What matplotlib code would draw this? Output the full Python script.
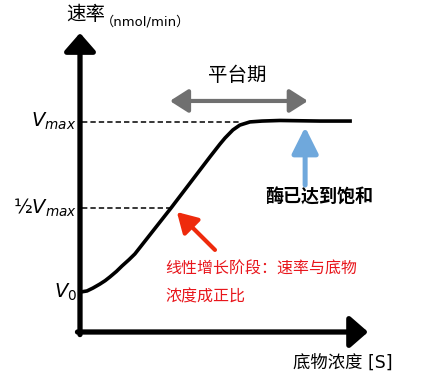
import matplotlib
matplotlib.use("Agg")
from matplotlib import pyplot as plt

plt.rcParams['font.family'] = ['DejaVu Sans', 'Noto Sans CJK SC']

# curve (substrate concentration vs rate, arbitrary units)
conc = [0, 0.25, 0.46, 0.71, 0.9, 1.07, 1.3, 1.5, 1.75, 1.96, 3.25, 4.64,
        5.0, 5.18, 5.46, 5.71, 6.07, 6.5, 7.14, 8.57, 9.71]
rate = [1.39, 1.43, 1.53, 1.67, 1.79, 1.92, 2.11, 2.30, 2.52, 2.72, 4.32, 6.10,
        6.55, 6.76, 7.04, 7.21, 7.32, 7.35, 7.37, 7.35, 7.35]

levels = [7.33, 4.32, 1.39]
level_labels = [r"$V_{max}$", r"½$V_{max}$", r"$V_{0}$"]
level_ends = [5.7, 3.25]

y_label = "速率"
y_unit = "（nmol/min）"
x_label = "底物浓度 [S]"
plateau_label = "平台期"
blue_label = "酶已达到饱和"
red_label = "线性增长阶段：速率与底物\n浓度成正比"

fig = plt.figure(figsize=(4.31, 3.88), dpi=100)
ax = fig.add_axes([0, 0, 1, 1])
ax.set_xlim(-80 / 28, 351 / 28)
ax.set_ylim(-56 / 28.7, 332 / 28.7)
ax.axis('off')

# axes with arrow heads
axis_style = dict(arrowstyle='-|>,head_length=0.55,head_width=0.48',
                  lw=3.8, color='black', shrinkA=0, shrinkB=0, mutation_scale=20)
ax.annotate('', xy=(0, 10.42), xytext=(0, -0.09), arrowprops=axis_style)
ax.annotate('', xy=(10.29, 0), xytext=(-0.09, 0), arrowprops=axis_style)

# dashed guide lines
for lv, end in zip(levels[:2], level_ends):
    ax.plot([0.07, end], [lv, lv], color='black', lw=1.1, ls=(0, (3.5, 2)))

ax.plot(conc, rate, color='black', lw=2.6, solid_capstyle='butt',
        solid_joinstyle='round')

# level labels
for lv, lab in zip(levels, level_labels):
    ax.text(-0.12, lv, lab, ha='right', va='center', fontsize=14)

# plateau double arrow
ax.annotate('', xy=(8.14, 8.05), xytext=(3.21, 8.05),
            arrowprops=dict(arrowstyle='<|-|>,head_length=0.55,head_width=0.35',
                            lw=3, color='#707070', shrinkA=0, shrinkB=0,
                            mutation_scale=20))
ax.text(5.61, 8.95, plateau_label, ha='center', va='center', fontsize=14)

# blue arrow to plateau
ax.annotate('', xy=(8.04, 7.14), xytext=(8.04, 5.12),
            arrowprops=dict(arrowstyle='-|>,head_length=0.8,head_width=0.4',
                            lw=3.6, color='#6fa8dc', shrinkA=0, shrinkB=0,
                            mutation_scale=20))
ax.text(6.61, 4.67, blue_label, ha='left', va='center', fontsize=13,
        fontweight='bold')

# red arrow to linear part
ax.annotate('', xy=(3.46, 4.18), xytext=(4.82, 2.86),
            arrowprops=dict(arrowstyle='-|>,head_length=0.6,head_width=0.35',
                            lw=3, color='#ee2a0c', shrinkA=0, shrinkB=0,
                            mutation_scale=20))
ax.text(3.04, 1.7, red_label, ha='left', va='center', fontsize=11.5,
        color='#e8161c', linespacing=2.0)

# axis titles
ax.text(-0.5, 11.05, y_label, ha='left', va='center', fontsize=14)
ax.text(0.75, 10.8, y_unit, ha='left', va='center', fontsize=9.5)
ax.text(7.6, -1.08, x_label, ha='left', va='center', fontsize=12.5)

fig.savefig('out.png', dpi=100)
